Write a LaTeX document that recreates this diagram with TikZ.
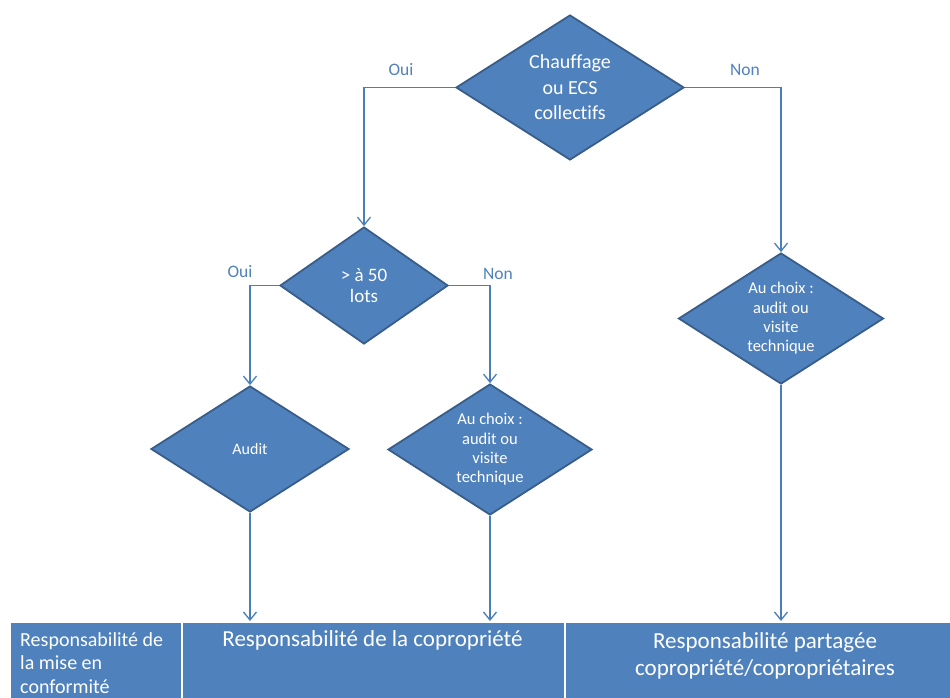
\documentclass[tikz,border=0pt]{standalone}
\usepackage{fontspec}
\setmainfont{Carlito}[Ligatures=NoCommon]
\usetikzlibrary{shapes.geometric,arrows.meta}
\definecolor{boxblue}{HTML}{4F81BD}
\definecolor{edgeblue}{HTML}{385D8A}
\definecolor{lineblue}{HTML}{4A7EBB}
\begin{document}
\begin{tikzpicture}[x=1pt,y=-1pt,
  dec/.style={diamond,fill=boxblue,draw=edgeblue,line width=1.8pt,inner sep=0pt},
  dtext/.style={text=white,align=center,inner sep=0pt},
  conn/.style={draw=lineblue,line width=1.4pt,-{Straight Barb[length=8pt,width=13pt,line width=1.3pt]}},
  lbl/.style={text=boxblue,font=\fontsize{17.5}{20}\selectfont,inner sep=0pt},
  cell/.style={rectangle,fill=boxblue,draw=white,line width=1.5pt,inner sep=0pt,anchor=north west},
  celltext/.style={text=white,inner sep=0pt,align=center}
]
\useasboundingbox (0,0) rectangle (950,697);

% diamonds
\node[dec,minimum width=228pt,minimum height=145pt] (d1) at (570,87.5) {};
\node[dec,minimum width=168pt,minimum height=117pt] (d2) at (364,285.5) {};
\node[dec,minimum width=198pt,minimum height=126pt] (d3) at (250,449) {};
\node[dec,minimum width=204pt,minimum height=131pt] (d4) at (490,449.5) {};
\node[dec,minimum width=205pt,minimum height=131pt] (d5) at (781,318.5) {};

\node[dtext,font=\fontsize{20}{25.5}\selectfont] (x1) at (d1.center) {Chauffage\\ou ECS\\collectifs};
\node[dtext,font=\fontsize{19}{21.5}\selectfont] (x2) at (d2.center) {> à 50\\lots};
\node[dtext,font=\fontsize{16}{19}\selectfont] (x3) at (d3.center) {Audit};
\node[dtext,font=\fontsize{16.5}{19.3}\selectfont] (x4) at (d4.center) {Au choix :\\audit ou\\visite\\technique};
\node[dtext,font=\fontsize{16.5}{19.3}\selectfont] (x5) at (d5.center) {Au choix :\\audit ou\\visite\\technique};

% table cells
\node[cell,minimum width=172pt,minimum height=80pt] (c1) at (9,621) {};
\node[cell,minimum width=383pt,minimum height=80pt] (c2) at (181,621) {};
\node[cell,minimum width=390pt,minimum height=80pt] (c3) at (564,621) {};

\node[celltext,anchor=north west,align=left,font=\fontsize{20}{23.5}\selectfont] (t1) at (20,632) {Responsabilité de\\la mise en\\conformité};
\node[celltext,anchor=north,font=\fontsize{23}{28}\selectfont] (t2) at (372.5,630) {Responsabilité de la copropriété};
\node[celltext,anchor=north,font=\fontsize{23}{27.5}\selectfont] (t3) at (765,632) {Responsabilité partagée\\copropriété/copropriétaires};

% connectors
\draw[conn] (d1.west) -| (d2.north);
\draw[conn] (d1.east) -| (d5.north);
\draw[conn] (d2.west) -| (d3.north);
\draw[conn] (d2.east) -| (d4.north);
\draw[conn] (d3.south) -- (d3.south |- c2.north);
\draw[conn] (d4.south) -- (d4.south |- c2.north);
\draw[conn] (d5.south) -- (d5.south |- c3.north);

% labels
\node[lbl] (l1) at (401,70) {Oui};
\node[lbl] (l2) at (745,70) {Non};
\node[lbl] (l3) at (240,272) {Oui};
\node[lbl] (l4) at (498,274) {Non};
\end{tikzpicture}
\end{document}
